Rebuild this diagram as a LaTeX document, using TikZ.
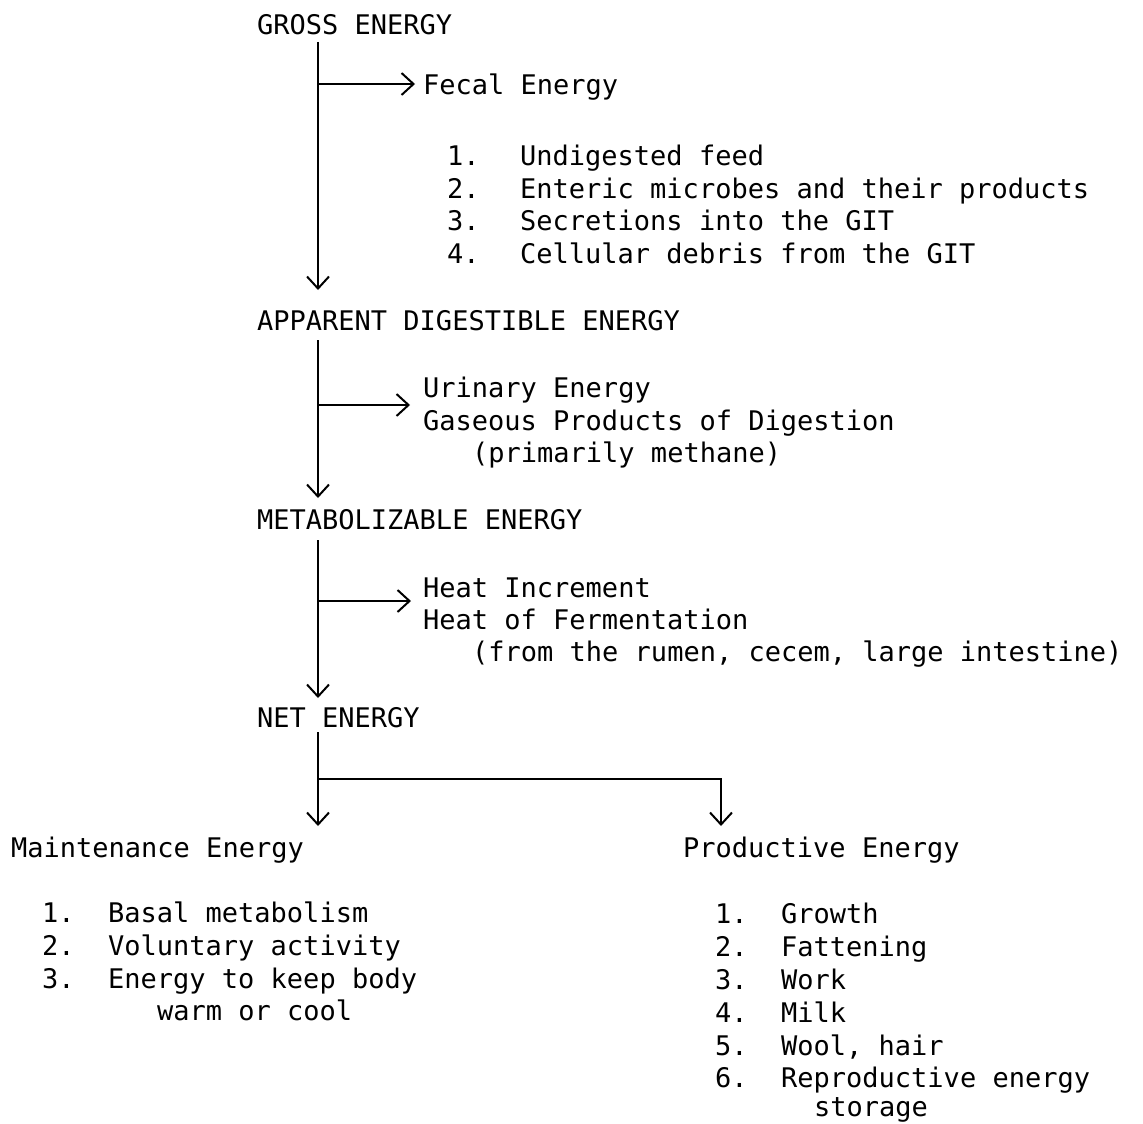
\documentclass[tikz,border=0pt]{standalone}
\usepackage{fontspec}
\setmainfont{DejaVu Sans Mono}
\usetikzlibrary{arrows.meta}
\begin{document}
\begin{tikzpicture}[x=1pt,y=-1pt,
  lbl/.style={anchor=base west,inner sep=0pt,font=\fontsize{27}{33}\selectfont},
  flow/.style={line width=2pt,-{Straight Barb[length=12pt,width=22pt,line width=2pt]}},
  plain/.style={line width=2pt}]
\useasboundingbox (0,0) rectangle (1143,1124);
% main chain
\node[lbl] (gross) at (257,35) {GROSS ENERGY};
\node[lbl] (fecal) at (423,95) {Fecal Energy};
\node[lbl] (f1n) at (447,165) {1.};
\node[lbl] (f1t) at (520,165) {Undigested feed};
\node[lbl] (f2n) at (447,198) {2.};
\node[lbl] (f2t) at (520,198) {Enteric microbes and their products};
\node[lbl] (f3n) at (447,230) {3.};
\node[lbl] (f3t) at (520,230) {Secretions into the GIT};
\node[lbl] (f4n) at (447,263) {4.};
\node[lbl] (f4t) at (520,263) {Cellular debris from the GIT};
\node[lbl] (app) at (257,330) {APPARENT DIGESTIBLE ENERGY};
\node[lbl] (uri) at (423,397) {Urinary Energy};
\node[lbl] (gas) at (423,430) {Gaseous Products of Digestion};
\node[lbl] (meth) at (472,462) {(primarily methane)};
\node[lbl] (met) at (257,529) {METABOLIZABLE ENERGY};
\node[lbl] (hinc) at (423,597) {Heat Increment};
\node[lbl] (hfer) at (423,629) {Heat of Fermentation};
\node[lbl] (hfrom) at (472,661) {(from the rumen, cecem, large intestine)};
\node[lbl] (net) at (257,727) {NET ENERGY};
% maintenance
\node[lbl] (mnt) at (11,857) {Maintenance Energy};
\node[lbl] (m1n) at (42,922) {1.};
\node[lbl] (m1t) at (108,922) {Basal metabolism};
\node[lbl] (m2n) at (42,955) {2.};
\node[lbl] (m2t) at (108,955) {Voluntary activity};
\node[lbl] (m3n) at (42,988) {3.};
\node[lbl] (m3t) at (108,988) {Energy to keep body};
\node[lbl] (m3c) at (157,1020) {warm or cool};
% productive
\node[lbl] (prd) at (683,857) {Productive Energy};
\node[lbl] (p1n) at (715,923) {1.};
\node[lbl] (p1t) at (781,923) {Growth};
\node[lbl] (p2n) at (715,956) {2.};
\node[lbl] (p2t) at (781,956) {Fattening};
\node[lbl] (p3n) at (715,989) {3.};
\node[lbl] (p3t) at (781,989) {Work};
\node[lbl] (p4n) at (715,1022) {4.};
\node[lbl] (p4t) at (781,1022) {Milk};
\node[lbl] (p5n) at (715,1055) {5.};
\node[lbl] (p5t) at (781,1055) {Wool, hair};
\node[lbl] (p6n) at (715,1087) {6.};
\node[lbl] (p6t) at (781,1087) {Reproductive energy};
\node[lbl] (p6c) at (814,1116) {storage};
% connector coordinates
\coordinate (a1) at (318,42);  \coordinate (a2) at (318,290);
\coordinate (j1) at (318,84);  \coordinate (e1) at (415,84);
\coordinate (b1) at (318,340); \coordinate (b2) at (318,498);
\coordinate (j2) at (318,405); \coordinate (e2) at (410,405);
\coordinate (c1) at (318,540); \coordinate (c2) at (318,698);
\coordinate (j3) at (318,601); \coordinate (e3) at (411,601);
\coordinate (d1) at (318,732); \coordinate (d2) at (318,826);
\coordinate (j4) at (318,779); \coordinate (k4) at (721,779);
\coordinate (e4) at (721,826);
% connectors
\draw[flow] (a1) -- (a2);
\draw[flow] (j1) -- (e1);
\draw[flow] (b1) -- (b2);
\draw[flow] (j2) -- (e2);
\draw[flow] (c1) -- (c2);
\draw[flow] (j3) -- (e3);
\draw[flow] (d1) -- (d2);
\draw[flow] (j4) -- (k4) -- (e4);
\end{tikzpicture}
\end{document}
